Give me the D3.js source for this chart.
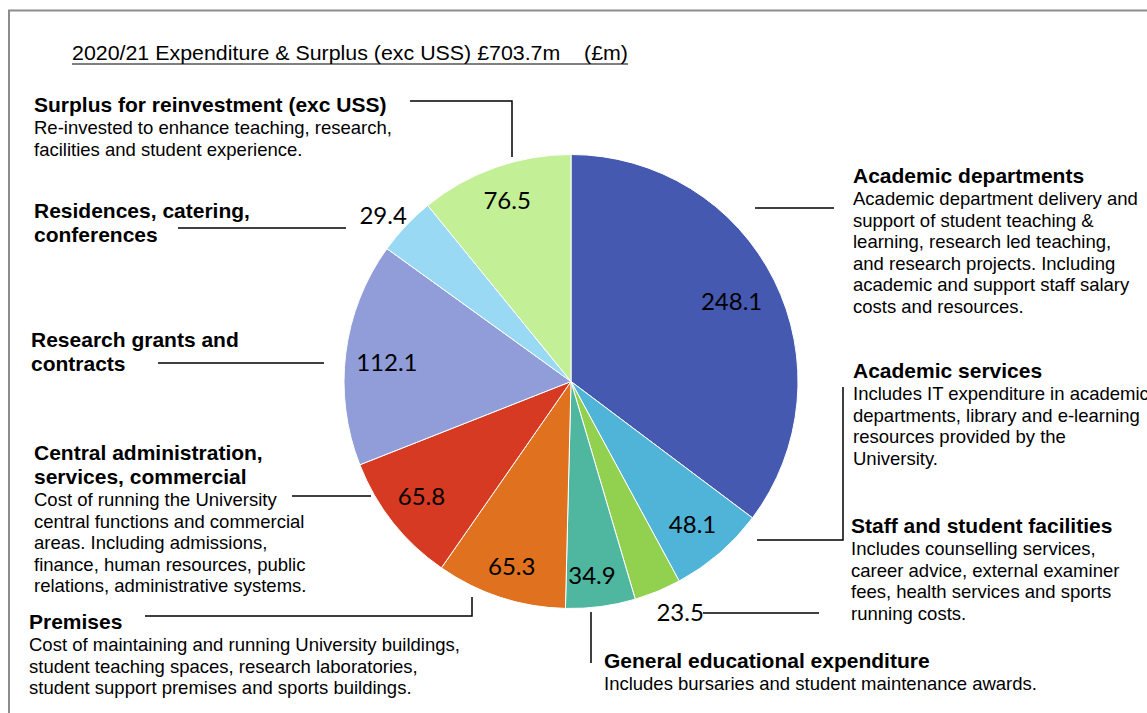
<!DOCTYPE html>
<html>
<head>
<meta charset="utf-8">
<script src="https://cdn.jsdelivr.net/npm/d3@7"></script>
<style>
  body { margin: 0; background: #fff; }
  svg { display: block; font-family: "Liberation Sans", Arial, sans-serif; }
</style>
</head>
<body>
<svg id="chart" width="1147" height="713"></svg>
<script>
// --- Data ---
const titleText = "2020/21 Expenditure & Surplus (exc USS) £703.7m\u00a0\u00a0\u00a0\u00a0(£m)";

const categories = [
    "Academic departments",
    "Academic services",
    "Staff and student facilities",
    "General educational expenditure",
    "Premises",
    "Central administration, services, commercial",
    "Research grants and contracts",
    "Residences, catering, conferences",
    "Surplus for reinvestment (exc USS)"
];

const values = [248.1, 48.1, 23.5, 34.9, 65.3, 65.8, 112.1, 29.4, 76.5];

const colors = ["#4559b0", "#50b4d8", "#92d050", "#4fb7a0", "#e0711e", "#d63a22", "#909dd8", "#9ad9f4", "#c3ef96"];

// heading lines (bold) and description lines per category
const headingLines = [
    ["Academic departments"],
    ["Academic services"],
    ["Staff and student facilities"],
    ["General educational expenditure"],
    ["Premises"],
    ["Central administration,", "services, commercial"],
    ["Research grants and", "contracts"],
    ["Residences, catering,", "conferences"],
    ["Surplus for reinvestment (exc USS)"]
];

const descriptionLines = [
    ["Academic department delivery and", "support of student teaching &", "learning, research led teaching,",
     "and research projects. Including", "academic and support staff salary", "costs and resources."],
    ["Includes IT expenditure in academic", "departments, library and e-learning", "resources provided by the", "University."],
    ["Includes counselling services,", "career advice, external examiner", "fees, health services and sports", "running costs."],
    ["Includes bursaries and student maintenance awards."],
    ["Cost of maintaining and running University buildings,", "student teaching spaces, research laboratories,",
     "student support premises and sports buildings."],
    ["Cost of running the University", "central functions and commercial", "areas. Including admissions,",
     "finance, human resources, public", "relations, administrative systems."],
    [],
    [],
    ["Re-invested to enhance teaching, research,", "facilities and student experience."]
];

// --- Layout (annotation placement) ---
const width = 1147, height = 713;
const cx = 571, cy = 381.5, radius = 227;
const insideLabelRadius = 0.84 * radius;
const outsideLabelRadius = 1.12 * radius;
const outsideLabels = new Set([2, 7]);
// small nudges of value labels, in px
const labelNudge = [[-10, 5], [-3, -2], [12, -4], [-4, 5], [0, 4], [0, -3], [5, 5], [-3, 8], [0, -1]];

// text anchor (x, first heading baseline) and leader line points for each category
const callouts = [
    { x: 853, y: 183, line: [[755, 208], [834, 208]] },
    { x: 853, y: 378, line: null },
    { x: 851, y: 533, line: [[757, 540], [843, 540], [843, 387]] },
    { x: 604, y: 668, line: [[591, 612], [591, 663]] },
    { x: 29, y: 629, line: [[145, 616], [472, 616], [472, 597]] },
    { x: 34, y: 460, line: [[292, 496], [371, 496]] },
    { x: 31, y: 347, line: [[158, 363], [324, 363]] },
    { x: 34, y: 218, line: [[178, 228], [346, 228]] },
    { x: 34, y: 112, line: [[410, 101], [512, 101], [512, 157]] }
];
const extraLines = [[[703, 613], [819, 613]]]; // leader from the 23.5 label

const svg = d3.select("#chart");

// frame
svg.append("rect")
    .attr("x", 9).attr("y", 10.5)
    .attr("width", width + 20).attr("height", height + 20)
    .attr("fill", "none")
    .attr("stroke", "#8c8c8c")
    .attr("stroke-width", 2);

// title
const title = svg.append("text")
    .attr("x", 72).attr("y", 60)
    .attr("font-size", "20px")
    .attr("textLength", 556)
    .attr("lengthAdjust", "spacingAndGlyphs")
    .attr("fill", "#000")
    .text(titleText);
svg.append("line")
    .attr("x1", 72).attr("x2", 628)
    .attr("y1", 64).attr("y2", 64)
    .attr("stroke", "#000").attr("stroke-width", 1.2);

// --- Pie ---
const pie = d3.pie().sort(null).value(d => d);
const arcs = pie(values);
const arc = d3.arc().innerRadius(0).outerRadius(radius);

const g = svg.append("g").attr("transform", `translate(${cx},${cy})`);

g.selectAll("path.slice")
    .data(arcs)
    .join("path")
    .attr("class", "slice")
    .attr("d", arc)
    .attr("fill", (d, i) => colors[i])
    .attr("stroke", "#fff")
    .attr("stroke-width", 1);

// value labels
g.selectAll("text.value")
    .data(arcs)
    .join("text")
    .attr("class", "value")
    .attr("transform", (d, i) => {
        const r = outsideLabels.has(i) ? outsideLabelRadius : insideLabelRadius;
        const c = d3.arc().innerRadius(r).outerRadius(r).centroid(d);
        return `translate(${c[0] + labelNudge[i][0]},${c[1] + labelNudge[i][1]})`;
    })
    .attr("text-anchor", "middle")
    .attr("dy", "0.36em")
    .attr("font-family", "Lato, 'Open Sans', sans-serif")
    .attr("font-size", "24px")
    .attr("fill", "#000")
    .text(d => d3.format(".1f")(d.data));

// --- Leader lines ---
const lineGen = d3.line();
callouts.forEach(c => {
    if (!c.line) return;
    svg.append("path")
        .attr("d", lineGen(c.line))
        .attr("fill", "none")
        .attr("stroke", "#000")
        .attr("stroke-width", 1.5);
});
extraLines.forEach(pts => {
    svg.append("path")
        .attr("d", lineGen(pts))
        .attr("fill", "none")
        .attr("stroke", "#000")
        .attr("stroke-width", 1.5);
});

// --- Category texts ---
categories.forEach((name, i) => {
    const c = callouts[i];
    const t = svg.append("text").attr("x", c.x).attr("y", c.y).attr("fill", "#000");
    let y = c.y;
    headingLines[i].forEach((ln, k) => {
        if (k > 0) y += 24;
        t.append("tspan")
            .attr("x", c.x).attr("y", y)
            .attr("font-size", "21px")
            .attr("font-weight", "bold")
            .text(ln);
    });
    descriptionLines[i].forEach((ln, k) => {
        y += k === 0 ? 22 : 21.5;
        t.append("tspan")
            .attr("x", c.x).attr("y", y)
            .attr("font-size", "18.5px")
            .text(ln);
    });
});
</script>
</body>
</html>
